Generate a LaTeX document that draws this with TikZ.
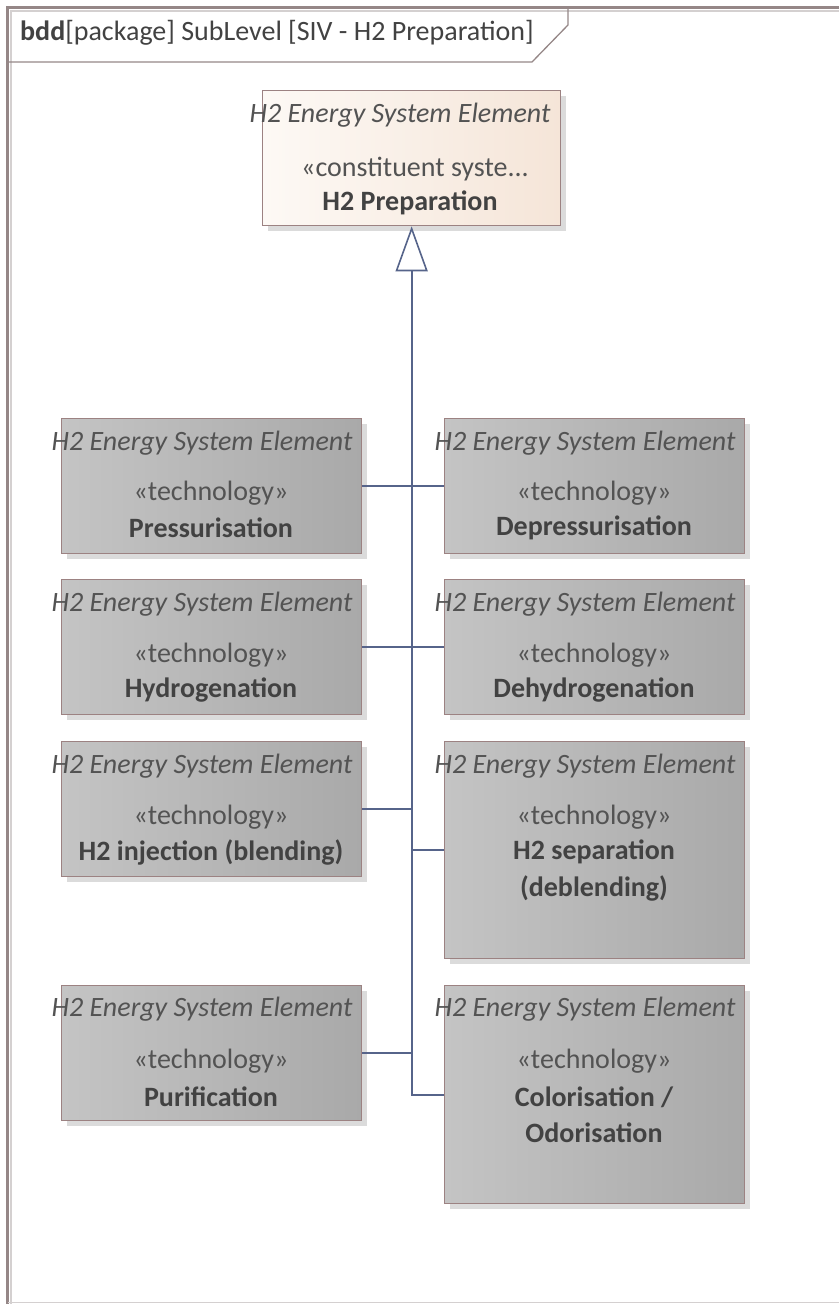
\documentclass[tikz,border=0pt]{standalone}
\usepackage{fontspec}
\setmainfont{Carlito}
\usetikzlibrary{shadows,arrows.meta}

\definecolor{framecol}{HTML}{958787}
\definecolor{frameshade}{HTML}{D4D0D0}
\definecolor{boxborder}{HTML}{9C8282}
\definecolor{grayL}{HTML}{C4C4C4}
\definecolor{grayR}{HTML}{A9A9A9}
\definecolor{peachL}{HTML}{FDF9F5}
\definecolor{peachR}{HTML}{F5E5D8}
\definecolor{wire}{HTML}{56648A}
\definecolor{titlecol}{HTML}{535353}
\definecolor{namecol}{HTML}{424242}

\begin{document}
\begin{tikzpicture}[x=1pt,y=-1pt,
  blockbase/.style={draw=boxborder, line width=1.3pt, rectangle, anchor=north west,
    minimum width=300pt, inner sep=0pt,
    drop shadow={shadow xshift=5pt,shadow yshift=-5pt,fill=black!14,opacity=1}},
  techbox/.style={blockbase, left color=grayL, right color=grayR},
  parentbox/.style={blockbase, left color=peachL, right color=peachR, minimum width=298pt},
  lbl/.style={inner sep=0pt, font=\fontsize{28}{33}\selectfont},
  ttl/.style={lbl, text=titlecol, font=\fontsize{28}{33}\selectfont\itshape},
  stereo/.style={lbl, text=titlecol},
  bname/.style={lbl, text=namecol, font=\fontsize{28}{33}\selectfont\bfseries},
  wireline/.style={draw=wire, line width=1.8pt}
]
\useasboundingbox (0,0) rectangle (839,1304);

% diagram frame with header tab
\draw[frameshade, line width=2pt] (11,1304) -- (11,11) -- (839,11);
\draw[framecol, line width=2.6pt] (7.5,1304) -- (7.5,7.5) -- (839,7.5);
\draw[frameshade, line width=1.2pt] (8,1302.5) -- (839,1302.5);
\draw[framecol, line width=1.3pt] (8,62) -- (532,62) -- (568,25) -- (568,8);
\node[lbl, anchor=west, text=namecol] (hdr) at (20,33)
  {\textbf{bdd}[package] SubLevel [SIV - H2 Preparation]};

% parent block
\node[parentbox, minimum height=135pt] (top) at (262,90) {};
\node[ttl]    (topt) at (400,115) {H2 Energy System Element};
\node[stereo] (tops) at (415,169) {«constituent syste...};
\node[bname]  (topn) at (410,203) {H2 Preparation};

% technology blocks, left column
\node[techbox, minimum height=135pt] (pres) at (61,418) {};
\node[ttl]    at (202,443) {H2 Energy System Element};
\node[stereo] at (211,493) {«technology»};
\node[bname]  at (211,528) {Pressurisation};

\node[techbox, minimum height=135pt] (hydr) at (61,579) {};
\node[ttl]    at (202,604) {H2 Energy System Element};
\node[stereo] at (211,655) {«technology»};
\node[bname]  at (211,690) {Hydrogenation};

\node[techbox, minimum height=135pt] (inj) at (61,741) {};
\node[ttl]    at (202,766) {H2 Energy System Element};
\node[stereo] at (211,817) {«technology»};
\node[bname]  at (211,852) {H2 injection (blending)};

\node[techbox, minimum height=135pt] (puri) at (61,985) {};
\node[ttl]    at (202,1009) {H2 Energy System Element};
\node[stereo] at (211,1061) {«technology»};
\node[bname]  at (211,1097) {Purification};

% technology blocks, right column
\node[techbox, minimum height=135pt] (depr) at (444,418) {};
\node[ttl]    at (585,443) {H2 Energy System Element};
\node[stereo] at (594,493) {«technology»};
\node[bname]  at (594,528) {Depressurisation};

\node[techbox, minimum height=135pt] (dehy) at (444,579) {};
\node[ttl]    at (585,604) {H2 Energy System Element};
\node[stereo] at (594,655) {«technology»};
\node[bname]  at (594,690) {Dehydrogenation};

\node[techbox, minimum height=217pt] (sep) at (444,741) {};
\node[ttl]    at (585,766) {H2 Energy System Element};
\node[stereo] at (594,817) {«technology»};
\node[bname]  at (594,852) {H2 separation};
\node[bname]  at (594,888) {(deblending)};

\node[techbox, minimum height=218pt] (col) at (444,985) {};
\node[ttl]    at (585,1009) {H2 Energy System Element};
\node[stereo] at (594,1061) {«technology»};
\node[bname]  at (594,1097) {Colorisation /};
\node[bname]  at (594,1133) {Odorisation};

% generalization tree
\coordinate (trunkend) at (col.west -| top.south);
\draw[wireline, -{Triangle[open, length=45pt, width=32pt, line width=1.6pt]}]
  (col.west) -- (trunkend) -- (top.south);
\draw[wireline] (pres.east) -- (depr.west);
\draw[wireline] (hydr.east) -- (dehy.west);
\draw[wireline] (inj.east) -- (inj.east -| top.south);
\draw[wireline] (sep.west) -- (sep.west -| top.south);
\draw[wireline] (puri.east) -- (puri.east -| top.south);
\end{tikzpicture}
\end{document}
